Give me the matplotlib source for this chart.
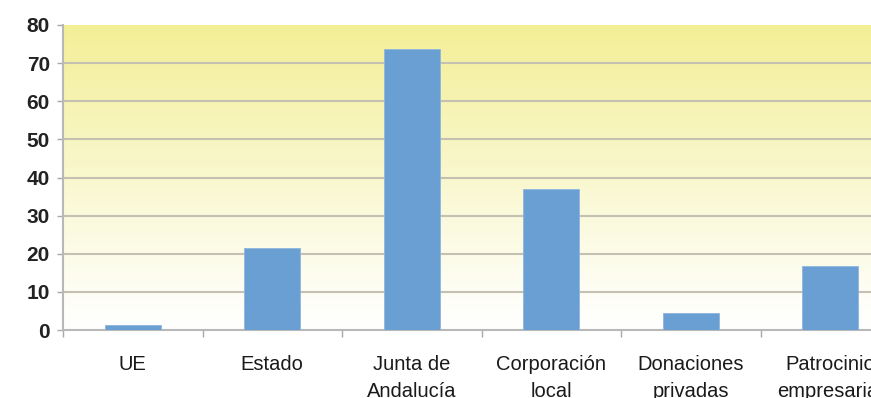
import matplotlib.pyplot as plt
import numpy as np

# Financiación por fuente (%)
categorias = ['UE', 'Estado', 'Junta de\nAndalucía', 'Corporación\nlocal',
              'Donaciones\nprivadas', 'Patrocinio\nempresarial']
valores = [1.3, 21.5, 73.7, 37.0, 4.5, 16.8]
yticks = [0, 10, 20, 30, 40, 50, 60, 70, 80]

plt.rcParams['font.family'] = ['Liberation Sans', 'DejaVu Sans']

fig = plt.figure(figsize=(8.71, 3.98), dpi=100)
# the plot area runs past the right edge of the figure
ax = fig.add_axes([63 / 871, 68 / 398, 837 / 871, 305 / 398])

x = np.arange(len(categorias))
ax.set_xlim(-0.5, len(categorias) - 0.5)
ax.set_ylim(0, 80)

# yellow-to-white background gradient
grad = np.linspace(0, 1, 256).reshape(-1, 1)
top = np.array([0.953, 0.937, 0.590])
bottom = np.array([1.0, 1.0, 1.0])
img = bottom + (top - bottom) * grad[..., None] ** 1.1
ax.imshow(img, extent=[0, 1, 0, 1], transform=ax.transAxes, origin='lower',
          aspect='auto', zorder=0)

# horizontal grid lines (none on the top edge)
for yv in yticks[1:-1]:
    ax.axhline(yv, color='#c4c0b2', linewidth=1.5, zorder=1)

ax.bar(x, valores, width=0.4, color='#6a9fd4', edgecolor='#8fb6de',
       linewidth=0.6, zorder=3)

ax.set_yticks(yticks)
ax.set_xticks(x)
ax.set_xticklabels(categorias, fontsize=14.5, color='#1a1a1a', linespacing=1.55)
ax.set_xticks(np.arange(len(categorias) + 1) - 0.5, minor=True)
ax.tick_params(axis='x', which='major', length=0, pad=18)
ax.tick_params(axis='x', which='minor', length=5, width=1, color='#a8a8a8')
ax.tick_params(axis='y', length=4.5, width=1, color='#a8a8a8', pad=5,
               labelsize=15, labelcolor='#222222')
for lbl in ax.get_yticklabels():
    lbl.set_fontweight('bold')

for side in ['top', 'right']:
    ax.spines[side].set_visible(False)
for side in ['left', 'bottom']:
    ax.spines[side].set_color('#b8b8b8')
    ax.spines[side].set_linewidth(1.5)

plt.savefig('out.png', dpi=100)
plt.close()
